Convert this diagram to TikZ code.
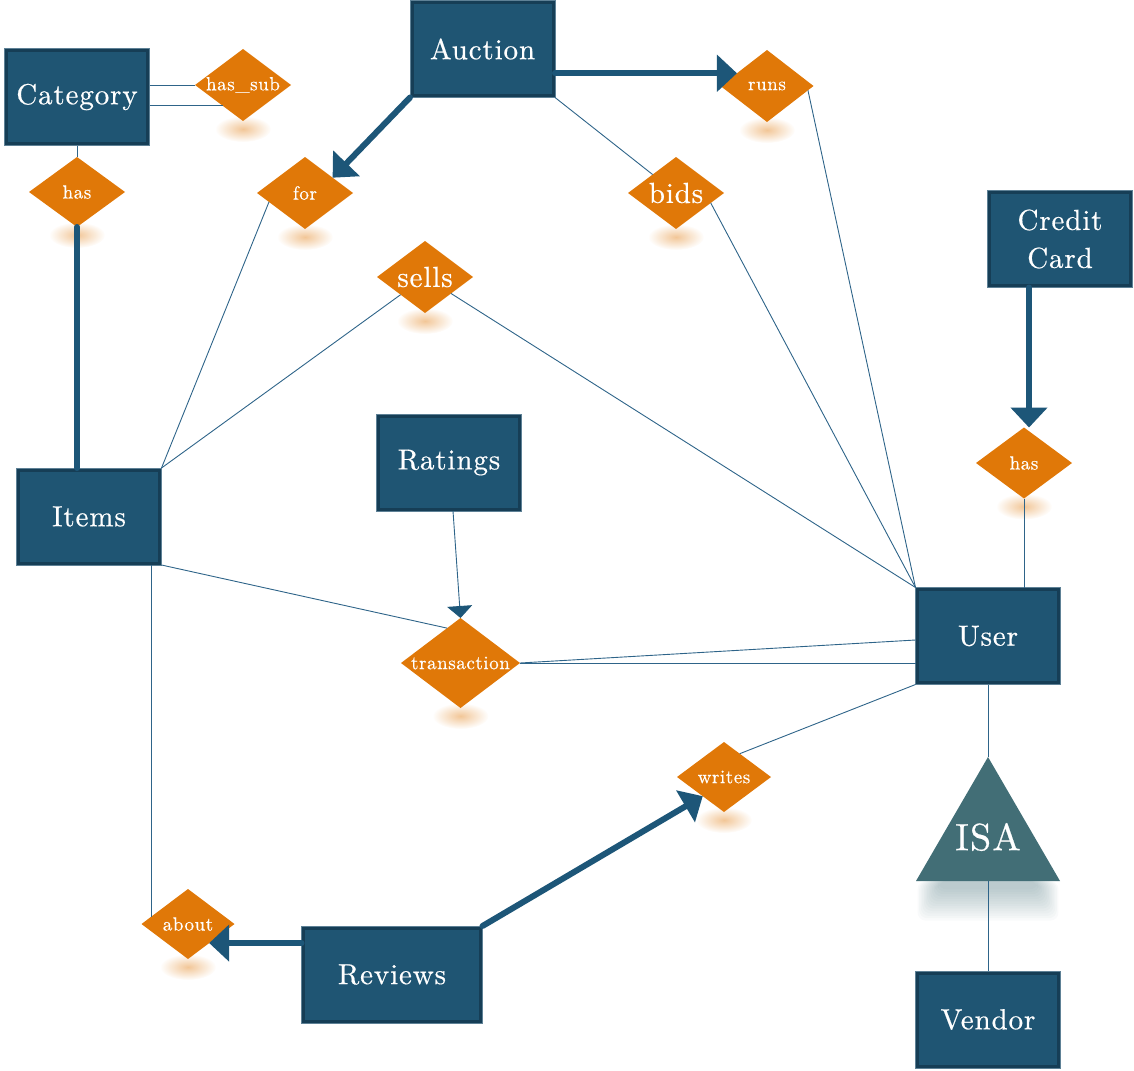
\documentclass[tikz,border=0pt]{standalone}
\usepackage{fontspec}
\setmainfont{lmroman10-regular}[Extension=.otf, FakeBold=0.5, LetterSpace=3]
\usetikzlibrary{shapes.geometric, arrows.meta, backgrounds, fadings}

\definecolor{boxfill}{HTML}{1F5573}
\definecolor{boxdark}{HTML}{163E56}
\definecolor{boxrim}{HTML}{5E8196}
\definecolor{relorange}{HTML}{E07808}
\definecolor{linkblue}{HTML}{2E6489}
\definecolor{heavyblue}{HTML}{1D5678}
\definecolor{isafill}{HTML}{426E76}

\tikzfading[name=softglow, inner color=transparent!58, outer color=transparent!100]

\newcommand\rellabel[1]{\makebox[0pt]{#1}}

\tikzset{
  entity/.style={rectangle, fill=boxfill, draw=boxrim, line width=0.8pt,
    minimum width=145pt, minimum height=97pt, inner sep=0pt, outer sep=0pt,
    text=white, align=center, font=\fontsize{29}{38}\selectfont,
    path picture={\draw[boxdark, line width=7pt]
      (path picture bounding box.south west) rectangle (path picture bounding box.north east);}},
  rel/.style={diamond, fill=relorange, inner sep=0pt, outer sep=0pt, text=white,
    minimum width=96pt, minimum height=72pt, font=\fontsize{19}{22}\selectfont},
  bigrel/.style={rel, font=\fontsize{29}{32}\selectfont},
  link/.style={draw=linkblue, line width=0.9pt},
  heavy/.style={draw=heavyblue, line width=6pt, line cap=round},
  heavyarrow/.style={heavy, -{Triangle[length=20pt, width=36pt]}},
  linkarrow/.style={link, -{Triangle[length=12pt, width=25pt, color=heavyblue]}},
  glow/.style={fill=relorange, path fading=softglow},
}

\begin{document}
\begin{tikzpicture}[x=1pt, y=-1pt]
\useasboundingbox (0,0) rectangle (1134,1070);

% entities
\node[entity] (cat) at (77,97) {Category};
\node[entity] (auc) at (482.5,49) {Auction};
\node[entity] (cc) at (1060,239) {Credit\\Card};
\node[entity] (items) at (89,516.5) {Items};
\node[entity] (ratings) at (449,462.5) {Ratings};
\node[entity] (user) at (988,636) {User};
\node[entity] (vendor) at (988,1019.5) {Vendor};
\node[entity, minimum width=181pt] (reviews) at (392,974.5) {Reviews};

% relationships
\node[rel] (hassub) at (243,85) {\rellabel{has\_sub}};
\node[rel, minimum height=70pt] (has1) at (77,192) {\rellabel{has}};
\node[rel] (for) at (305,193) {\rellabel{for}};
\node[rel, minimum width=93pt] (runs) at (767,86) {\rellabel{runs}};
\node[bigrel] (bids) at (676,193) {\rellabel{bids}};
\node[bigrel] (sells) at (425,277) {\rellabel{sells}};
\node[rel, minimum height=71pt] (has2) at (1024,463) {\rellabel{has}};
\node[rel, minimum width=119pt, minimum height=90pt] (trans) at (460.5,663) {\rellabel{transaction}};
\node[rel, minimum width=94pt, minimum height=70pt] (writes) at (724,777) {\rellabel{writes}};
\node[rel, minimum width=93pt, minimum height=70pt] (about) at (188,924) {\rellabel{about}};

% ISA triangle
\coordinate (isatop) at (988,757);
\coordinate (isaleft) at (916,881);
\coordinate (isaright) at (1060,881);
\coordinate (isabase) at (988,881);
\fill[isafill] (isatop) -- (isaright) -- (isaleft) -- cycle;
\node[text=white, font=\fontsize{38}{40}\selectfont] (isa) at (988,837) {ISA};

% soft shadows
\begin{scope}[on background layer]
  \foreach \d in {hassub,has1,for,runs,bids,sells,has2,trans,writes,about}
    \fill[glow] ([yshift=-8pt]\d.south) ellipse [x radius=28pt, y radius=13pt];
  \foreach \i in {1,...,14}
    \fill[isafill, opacity=0.03, rounded corners=8pt]
      ([xshift={\i*1.6pt}]isaleft) rectangle ([xshift={-\i*1.6pt}, yshift={-(42-2.4*\i)*1pt}]isaright);
\end{scope}

% connectors
\draw[link] (cat.east |- hassub.west) -- (hassub.west);
\draw[link] (cat.east |- hassub.226) -- (hassub.226);
\draw[link] (cat.south) -- (has1.north);
\draw[heavy] (has1.south) -- (has1.south |- items.north);
\draw[heavyarrow] (auc.south west) -- (for.29);
\draw[heavyarrow] (auc.east |- runs.157) -- (runs.157);
\draw[link] (auc.south east) -- (bids);
\draw[link] (bids.-16) -- (user.north west);
\draw[link] (runs.-6) -- (user.north west);
\draw[link] (for.194) -- (items.north east);
\draw[link] (items.north east) -- (sells);
\draw[link] (sells) -- (user.north west);
\draw[linkarrow] ([xshift=4pt]ratings.south) -- (trans.north);
\draw[link] (items.south east) -- (trans.111);
\draw[link] (trans.east) -- ([yshift=-4pt]user.west);
\draw[link] (trans.east) -- (trans.east -| user.west);
\draw[link] (writes.56) -- (user.south west);
\draw[heavyarrow] (reviews.north east) -- (writes.222);
\draw[heavyarrow] (reviews.west |- about.-42) -- (about.-42);
\draw[link] (items.south -| about.169) -- (about.169);
\draw[heavyarrow] ([xshift=5pt]has2.north |- cc.south) -- ([xshift=5pt]has2.north);
\draw[link] (has2.south) -- (has2.south |- user.north);
\draw[link] (user.south) -- (isatop);
\draw[link] (isabase) -- (vendor.north);
\end{tikzpicture}
\end{document}
